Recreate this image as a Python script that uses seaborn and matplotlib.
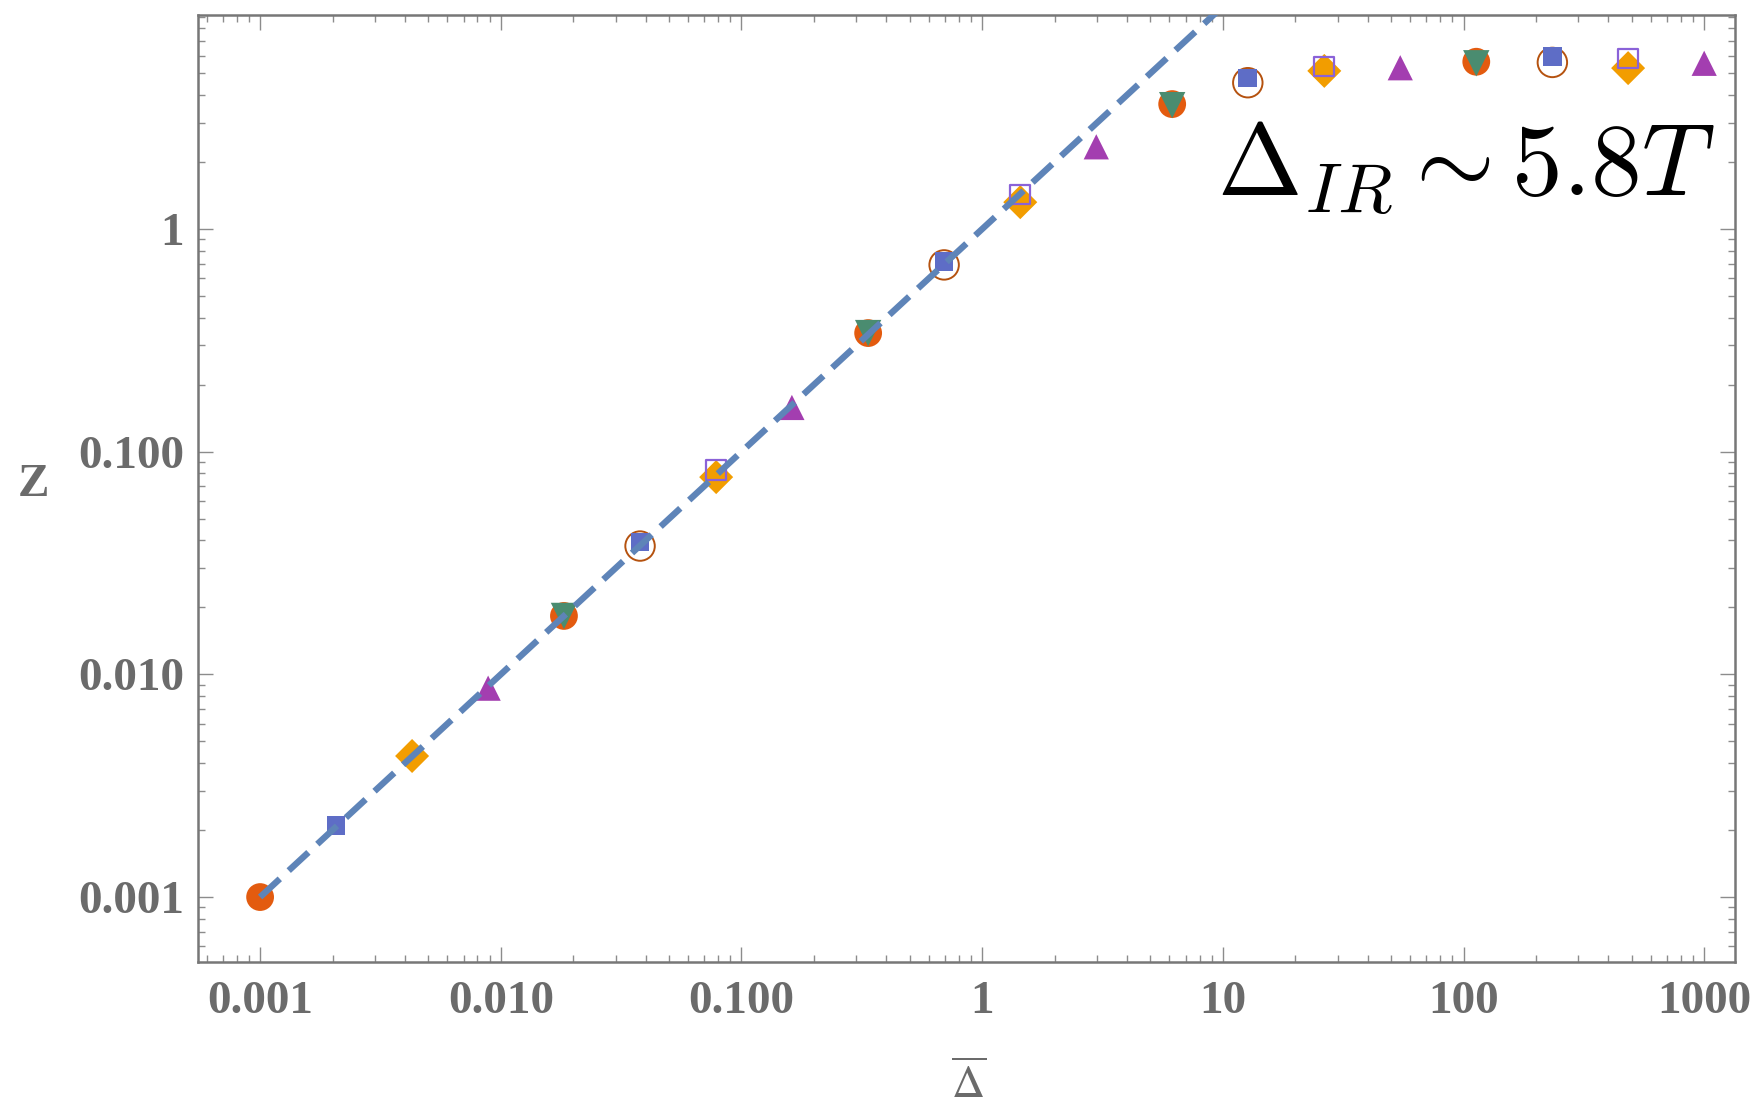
import numpy as np
import pandas as pd
import matplotlib
matplotlib.use("Agg")
import matplotlib.pyplot as plt
import matplotlib.ticker as mticker
import seaborn as sns

# series (Delta-bar, Z)
circ_x = [0.001, 0.0183, 0.336, 6.16, 113]
circ_y = [0.001, 0.0183, 0.341, 3.64, 5.64]
sq_x = [0.00207, 0.0379, 0.695, 12.7, 234]
sq_y = [0.00209, 0.0393, 0.714, 4.76, 5.94]
dia_x = [0.00428, 0.0785, 1.44, 26.4, 483]
dia_y = [0.0043, 0.0769, 1.32, 5.13, 5.28]
tri_x = [0.00886, 0.162, 2.98, 54.6, 1000]
tri_y = [0.00867, 0.158, 2.34, 5.30, 5.55]
dtri_x = [0.0183, 0.336, 6.16, 113]
dtri_y = [0.0183, 0.341, 3.60, 5.55]
ocirc_x = [0.0379, 0.695, 12.7, 234]
ocirc_y = [0.0377, 0.69, 4.54, 5.60]
osq_x = [0.0785, 1.44, 26.4, 483]
osq_y = [0.0826, 1.43, 5.36, 5.83]

line_x = [0.001, 10]
line_y = [0.001, 10]

x_ticks = [0.001, 0.01, 0.1, 1, 10, 100, 1000]
x_tick_labels = ["0.001", "0.010", "0.100", "1", "10", "100", "1000"]
y_ticks = [0.001, 0.01, 0.1, 1]
y_tick_labels = ["0.001", "0.010", "0.100", "1"]

sns.set_style("ticks")
plt.rcParams["font.family"] = ["Liberation Serif", "DejaVu Serif"]

gray = "#6b6b6b"

fig = plt.figure(figsize=(17.6, 11.07), dpi=100)
ax = fig.add_axes([0.1125, 0.131, 0.8733, 0.8555])

# markers, one call per series
sns.scatterplot(x=circ_x, y=circ_y, marker="o", s=400, color="#E35B0F",
                edgecolor="none", linewidth=0, ax=ax, zorder=3)
sns.scatterplot(x=ocirc_x, y=ocirc_y, marker="o", s=450, facecolor="none",
                edgecolor="#B5520F", linewidth=1.4, ax=ax, zorder=3)
sns.scatterplot(x=sq_x, y=sq_y, marker="s", s=180, color="#5E6DC6",
                edgecolor="none", linewidth=0, ax=ax, zorder=4)
sns.scatterplot(x=dia_x, y=dia_y, marker="D", s=300, color="#F29D00",
                edgecolor="none", linewidth=0, ax=ax, zorder=3)
sns.scatterplot(x=tri_x, y=tri_y, marker="^", s=330, color="#A33EB0",
                edgecolor="none", linewidth=0, ax=ax, zorder=3)
sns.scatterplot(x=dtri_x, y=dtri_y, marker="v", s=360, color="#4A8C70",
                edgecolor="none", linewidth=0, ax=ax, zorder=4)
sns.scatterplot(x=osq_x, y=osq_y, marker="s", s=200, facecolor="none",
                edgecolor="#8A62D8", linewidth=1.6, ax=ax, zorder=4)

# dashed Z = Delta line
sns.lineplot(x=line_x, y=line_y, color="#5E84B8", linewidth=4.6,
             linestyle=(0, (4.2, 1.9)), ax=ax, zorder=5)

ax.set_xscale("log")
ax.set_yscale("log")
ax.set_xlim(0.000552, 1343)
ax.set_ylim(0.000511, 9.15)

ax.set_xticks(x_ticks, labels=x_tick_labels)
ax.set_yticks(y_ticks, labels=y_tick_labels)
ax.xaxis.set_minor_locator(mticker.LogLocator(base=10, subs=np.arange(2, 10), numticks=30))
ax.yaxis.set_minor_locator(mticker.LogLocator(base=10, subs=np.arange(2, 10), numticks=30))
ax.xaxis.set_minor_formatter(mticker.NullFormatter())
ax.yaxis.set_minor_formatter(mticker.NullFormatter())

ax.tick_params(which="both", direction="in", top=True, right=True,
               color="#8c8c8c", width=1.0)
ax.tick_params(which="major", length=11)
ax.tick_params(which="minor", length=5)
ax.tick_params(axis="x", which="major", pad=14)
ax.tick_params(axis="y", which="major", pad=10)
for lab in ax.get_xticklabels() + ax.get_yticklabels():
    lab.set_fontsize(34)
    lab.set_fontweight("bold")
    lab.set_color(gray)

for sp in ax.spines.values():
    sp.set_color("#777777")
    sp.set_linewidth(1.8)

# axis labels
fig.text(969 / 1760, 1 - 1098 / 1107, r"$\overline{\Delta}$", fontsize=33,
         color=gray, ha="center", va="baseline", math_fontfamily="stix")
fig.text(34 / 1760, 1 - 485 / 1107, "Z", fontsize=34, fontweight="bold",
         color=gray, ha="center", va="center")

# annotation
fig.text(1715 / 1760, 1 - 196 / 1107, r"$\Delta_{IR} \sim 5.8T$", fontsize=73,
         color="black", ha="right", va="baseline", math_fontfamily="cm")

fig.savefig("out.png", dpi=100, facecolor="white")
